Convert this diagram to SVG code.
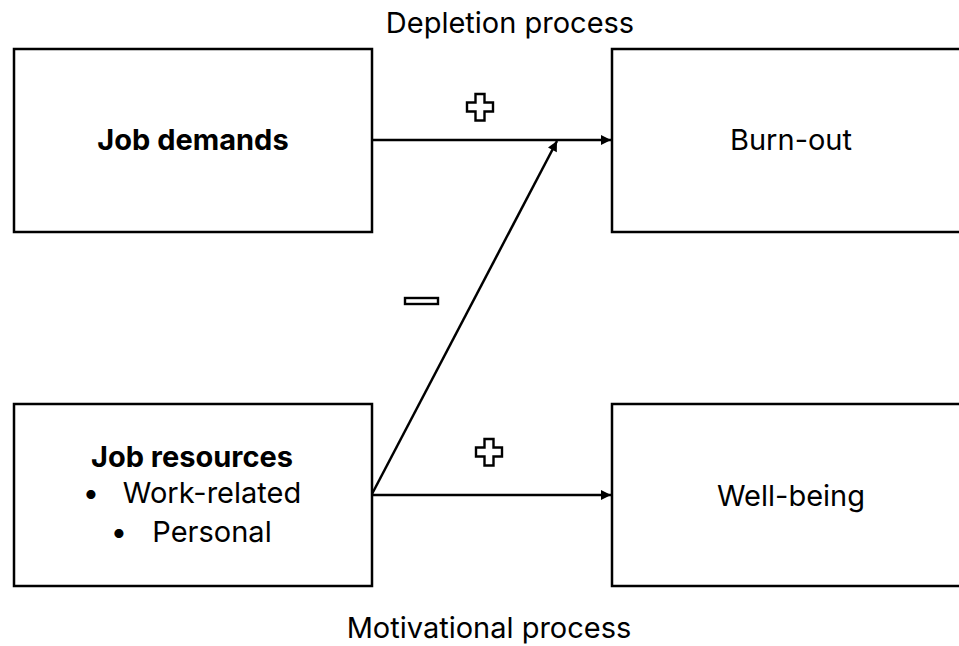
<svg xmlns="http://www.w3.org/2000/svg" width="959" height="646" viewBox="0 0 959 646">
<style>
.box{fill:#fff;stroke:#000;stroke-width:2.5}
.t{font-family:Inter,"Open Sans",sans-serif;font-size:29px;fill:#000;text-anchor:middle}
.b{font-weight:bold}
.ln{stroke:#000;stroke-width:2.5;fill:none}
.sym{fill:#fff;stroke:#000;stroke-width:2.4}
</style>
<defs>
<marker id="ah" viewBox="0 0 10 10" refX="10" refY="5" markerWidth="4.4" markerHeight="4" markerUnits="strokeWidth" orient="auto">
<path d="M0,0 L10,5 L0,10 Z" fill="#000"/>
</marker>
<path id="plus" d="M-4.5,-13 h9 v8.5 h8.5 v9 h-8.5 v9 h-9 v-9 h-8.5 v-9 h8.5 z"/>
</defs>
<rect width="959" height="646" fill="#fff"/>
<text class="t" x="510" y="33">Depletion process</text>
<text class="t" x="489" y="638">Motivational process</text>
<g id="job-demands">
<rect class="box" x="14" y="49" width="358" height="183"/>
<text class="t b" x="193" y="150">Job demands</text>
</g>
<g id="burn-out">
<rect class="box" x="612" y="49" width="360" height="183"/>
<text class="t" x="791" y="150">Burn-out</text>
</g>
<g id="job-resources">
<rect class="box" x="14" y="404" width="358" height="182"/>
<text class="t b" x="192" y="467">Job resources</text>
<text class="t" x="195" y="503"><tspan x="91">•</tspan><tspan x="212">Work-related</tspan></text>
<text class="t" x="195" y="542"><tspan x="119">•</tspan><tspan x="212">Personal</tspan></text>
</g>
<g id="well-being">
<rect class="box" x="612" y="404" width="360" height="182"/>
<text class="t" x="791" y="506">Well-being</text>
</g>
<g id="connectors">
<line class="ln" x1="372" y1="140" x2="611" y2="140" marker-end="url(#ah)"/>
<line class="ln" x1="372" y1="495" x2="611" y2="495" marker-end="url(#ah)"/>
<line class="ln" x1="372" y1="494" x2="557" y2="141" marker-end="url(#ah)"/>
<use href="#plus" class="sym" x="480" y="107"/>
<use href="#plus" class="sym" x="489" y="452"/>
<rect class="sym" x="405" y="298" width="33" height="6"/>
</g>
</svg>
